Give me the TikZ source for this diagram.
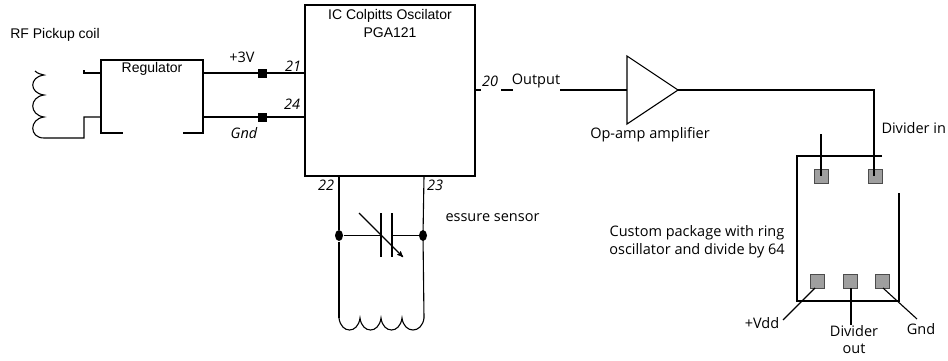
\documentclass[tikz,border=0pt]{standalone}
\usepackage{fontspec}
\setmainfont{Liberation Sans}
\newfontfamily\handfont{Open Sans}
\usepackage{xcolor}
\usetikzlibrary{arrows,shapes,positioning}

\begin{document}
\begin{tikzpicture}[x=1pt, y=-1pt, >=stealth', thick, inner sep=0pt, line width=1pt]
\tikzstyle{arial}=[font=\fontsize{14}{16}\selectfont]
\tikzstyle{hand}=[font=\handfont\fontsize{14.5}{17.5}\selectfont, align=center]
\tikzstyle{pinno}=[font=\handfont\itshape\fontsize{14.5}{16}\selectfont]
\tikzstyle{heavy}=[line width=2.2pt, line cap=rect]
\tikzstyle{wire}=[line width=1.1pt]
\tikzstyle{term}=[draw, fill=black, minimum size=8pt]
\tikzstyle{pad}=[draw=gray!60!black, fill=gray!75, minimum size=14pt]
\tikzstyle{joint}=[fill=black, ellipse, minimum width=8pt, minimum height=11pt]
\useasboundingbox (0,0) rectangle (948,360);

\node[arial] (rflabel) at (55,35) {RF Pickup coil};
\node[arial] (reglabel) at (152,69) {Regulator};
\node[arial] (ictitle) at (390,16) {IC Colpitts Oscilator};
\node[arial] (icpart) at (390,33) {PGA121};

\node[draw, heavy, minimum width=170pt, minimum height=171pt] (ic) at (390,90.5) {};
\coordinate (pin21) at (305,73);
\coordinate (pin24) at (305,117);
\coordinate (pin22) at (339,176);
\coordinate (pin23) at (424,176);
\coordinate (pin20) at (475,90);

% regulator, open at the bottom
\coordinate (regtl) at (101,60);
\coordinate (regtr) at (203,60);
\coordinate (regbl) at (101,133);
\coordinate (regbr) at (203,133);
\draw[heavy] (122,133) -- (regbl) -- (regtl) -- (regtr) -- (regbr) -- (184,133);

% pickup coil
\coordinate (coiltop) at (44,75);
\coordinate (coilend) at (44,138);
\coordinate (regin1) at (101,73);
\coordinate (regin2) at (101,117);
\draw[wire] (35,71) .. controls (38,74) and (41,74) .. (coiltop)
  .. controls (29,77) and (29,93) .. (44,95)
  .. controls (29,97) and (29,115) .. (44,117)
  .. controls (29,119) and (29,138) .. (coilend)
  -- (84,138) -- (84,117) -- (regin2);
\draw[wire] (84,70) -- (84,73) -- (regin1);

\node[term] (sq21) at (262,73) {};
\node[term] (sq24) at (262,117) {};
\draw[wire] (203,73) -- (sq21) -- (pin21);
\draw[wire] (203,117) -- (sq24) -- (pin24);
\node[hand] (v3) at (242,57) {+3V};
\node[pinno] (gnd1) at (244,133) {Gnd};
\node[pinno] (n21) at (293,66) {21};
\node[pinno] (n24) at (292,104) {24};
\node[pinno] (n22) at (326,185) {22};
\node[pinno] (n23) at (435,185) {23};
\node[pinno] (n20) at (490,81) {20};
\node[hand] (outlabel) at (536,81) {Output};

% tuned circuit
\coordinate (coil1) at (339,318);
\coordinate (coil2) at (424,318);
\node[joint] (j1) at (339,235.5) {};
\node[joint] (j2) at (423,235.5) {};
\coordinate (plate1) at (381,235.5);
\coordinate (plate2) at (392,235.5);
\draw[wire] (pin22) -- (j1) -- (coil1);
\draw[wire] (pin23) -- (j2.center) -- (coil2);
\draw[wire] (j1) -- (plate1);
\draw[wire] (plate2) -- (j2);
\draw[wire] (381,213) -- (381,257);
\draw[wire] (392,213) -- (392,257);
\draw[wire, ->] (359,213) -- (403,257);
\draw[wire] (coil1)
  .. controls (341,334) and (358,334) .. (360,318)
  .. controls (362,334) and (379,334) .. (381,318)
  .. controls (383,334) and (400,334) .. (402,318)
  .. controls (404,334) and (422,334) .. (coil2);
\node[hand, anchor=west] (sensor) at (445,218) {essure sensor};

% amplifier
\coordinate (ampin) at (627,90);
\coordinate (ampout) at (678,90);
\draw[wire] (627,56) -- (ampout) -- (627,124) -- cycle;
\node[hand] (amplabel) at (650,135) {Op-amp amplifier};
\draw[wire] (pin20) -- (481,90);
\draw[wire] (501,90) -- (513,90);
\draw[wire] (560,90) -- (ampin);

% custom package
\coordinate (pkgtr) at (882,156);
\coordinate (pkgtl) at (797,156);
\coordinate (pkgbl) at (797,301);
\coordinate (pkgbr) at (899,301);
\draw[heavy, line cap=butt] (pkgtr) -- (pkgtl) -- (pkgbl) -- (pkgbr) -- (899,193);
\node[pad] (pad1) at (821,176) {};
\node[pad] (pad2) at (875,176) {};
\node[pad] (pad3) at (817,281) {};
\node[pad] (pad4) at (850,281) {};
\node[pad] (pad5) at (882,281) {};
\coordinate (pin1) at (821,134);
\coordinate (vddend) at (783,320);
\coordinate (divend) at (851,325);
\coordinate (gndend) at (917,319);
\draw[wire] (ampout) -- (874,90) -- (874,176);
\draw[wire] (pin1) -- (pad1.center);
\draw[wire] (815,288) -- (vddend);
\draw[wire] (851,288) -- (divend);
\draw[wire] (883,288) -- (gndend);

\node[hand, anchor=west] (divin) at (881,128) {Divider in};
\node[hand] (pkglabel) at (697,241.5) {Custom package with ring\\oscillator and divide by 64};
\node[hand] (vdd) at (762,323) {+Vdd};
\node[hand] (divout) at (854,339.5) {Divider\\out};
\node[hand] (gnd2) at (921,329) {Gnd};
\end{tikzpicture}
\end{document}
